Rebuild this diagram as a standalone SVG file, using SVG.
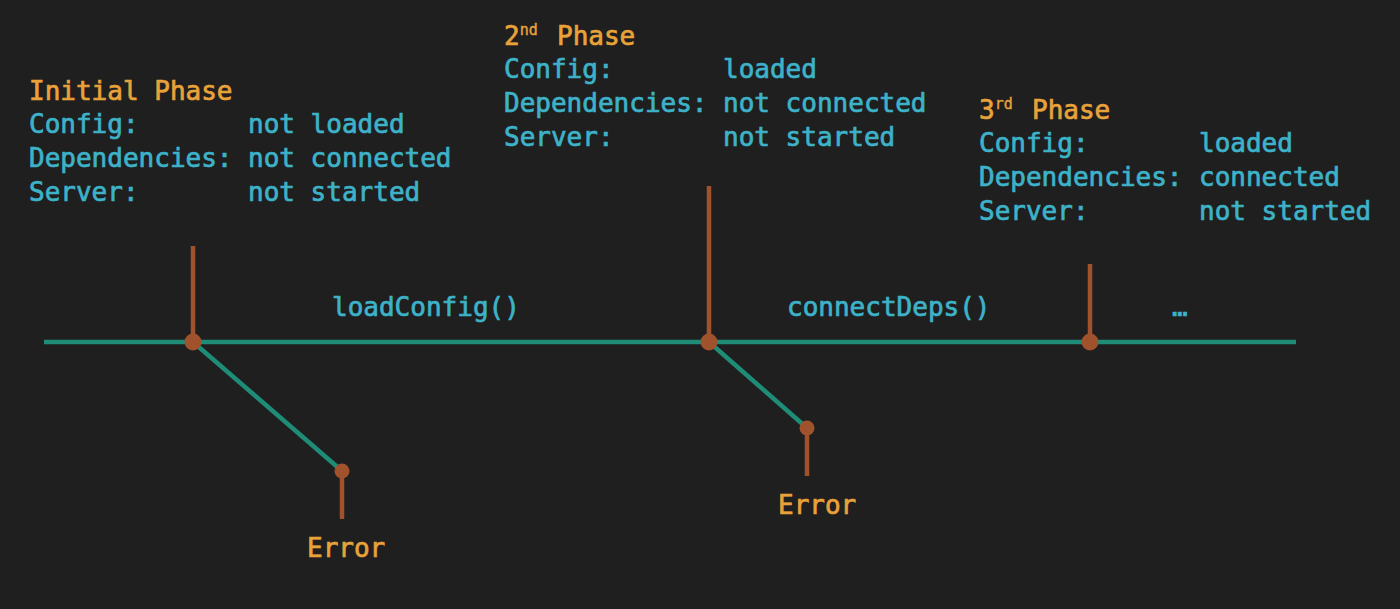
<svg xmlns="http://www.w3.org/2000/svg" width="1400" height="609" viewBox="0 0 1400 609">
<style>
text{font-family:"DejaVu Sans Mono","Liberation Mono",monospace;font-size:26px;stroke-width:0.7px}
.h{fill:#E8A23A;stroke:#E8A23A}
.t{fill:#3DB2C8;stroke:#3DB2C8}
.sup{font-size:15px;stroke-width:0.4px}
.tl{stroke:#1E8C76;stroke-width:4.5;fill:none}
.br{stroke:#A0522D;stroke-width:4.5;fill:none}
.dot{fill:#A0522D}
</style>
<rect width="1400" height="609" fill="#1F1F1F"/>
<g id="connectors">
<line class="tl" x1="44" y1="342" x2="1296" y2="342"/>
<line class="tl" x1="193" y1="342" x2="342" y2="471"/>
<line class="tl" x1="709" y1="342" x2="807" y2="428"/>
<line class="br" x1="193" y1="246" x2="193" y2="342"/>
<line class="br" x1="709" y1="186" x2="709" y2="342"/>
<line class="br" x1="1090" y1="264" x2="1090" y2="342"/>
<line class="br" x1="342" y1="471" x2="342" y2="519"/>
<line class="br" x1="807" y1="428" x2="807" y2="476"/>
<text class="t" x="332" y="316">loadConfig()</text>
<text class="t" x="787" y="316">connectDeps()</text>
<text class="t" x="1172" y="316">…</text>
</g>
<g id="initial-phase">
<circle class="dot" cx="193" cy="342" r="8.5"/>
<text class="h" x="29" y="100">Initial Phase</text>
<text class="t" x="29" y="133">Config:</text><text class="t" x="248" y="133">not loaded</text>
<text class="t" x="29" y="167">Dependencies:</text><text class="t" x="248" y="167">not connected</text>
<text class="t" x="29" y="201">Server:</text><text class="t" x="248" y="201">not started</text>
</g>
<g id="phase-2">
<circle class="dot" cx="709" cy="342" r="8.5"/>
<text class="h" x="504" y="45">2<tspan class="sup" dy="-10">nd</tspan><tspan dy="10" x="557">Phase</tspan></text>
<text class="t" x="504" y="78">Config:</text><text class="t" x="723" y="78">loaded</text>
<text class="t" x="504" y="112">Dependencies:</text><text class="t" x="723" y="112">not connected</text>
<text class="t" x="504" y="146">Server:</text><text class="t" x="723" y="146">not started</text>
</g>
<g id="phase-3">
<circle class="dot" cx="1090" cy="342" r="8.5"/>
<text class="h" x="979" y="119">3<tspan class="sup" dy="-10">rd</tspan><tspan dy="10" x="1032">Phase</tspan></text>
<text class="t" x="979" y="152">Config:</text><text class="t" x="1199" y="152">loaded</text>
<text class="t" x="979" y="186">Dependencies:</text><text class="t" x="1199" y="186">connected</text>
<text class="t" x="979" y="220">Server:</text><text class="t" x="1199" y="220">not started</text>
</g>
<g id="error-1">
<circle class="dot" cx="342" cy="471" r="7.5"/>
<text class="h" x="307" y="557">Error</text>
</g>
<g id="error-2">
<circle class="dot" cx="807" cy="428" r="7.5"/>
<text class="h" x="778" y="514">Error</text>
</g>
</svg>
